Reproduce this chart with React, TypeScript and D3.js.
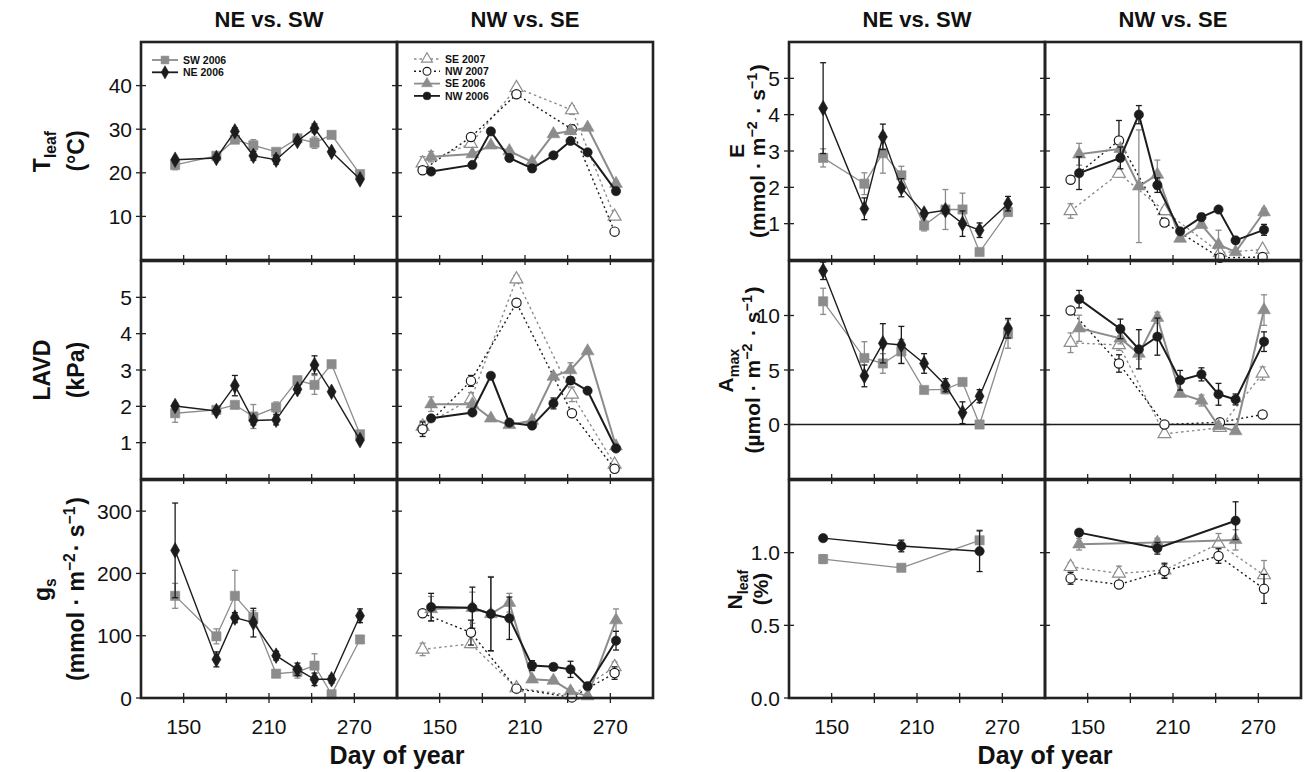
import React from "react";
import * as d3 from "d3";

// sampling dates (day of year)
const days2006 = [144, 173, 186, 199, 215, 230, 242, 254, 274];
const days2007 = [138, 172, 204, 243, 273];
const daysN2006 = [144, 199, 254];
const daysN2007 = [138, 172, 204, 242, 274];

// leaf temperature (°C)
const tSW06 = [21.8, 23.9, 27.6, 26.3, 24.8, 27.9, 26.9, 28.7, 19.7];
const tSW06e = [1.1, 0.4, 0.5, 1.3, 0.5, 0.5, 1.3, 0.4, 0.5];
const tNE06 = [23.0, 23.4, 29.5, 23.9, 23.0, 27.3, 30.2, 24.8, 18.5];
const tNE06e = [0.5, 0.4, 0.8, 1.0, 1.0, 0.5, 1.0, 0.4, 0.4];
const tSE07 = [22.2, 26.7, 39.5, 34.4, 10.0];
const tSE07e = [1.5, 0.5, 0.5, 1.0, 0.5];
const tNW07 = [20.6, 28.2, 38.0, 30.0, 6.5];
const tNW07e = [0.5, 0.5, 0.5, 1.0, 0.4];
const tSE06 = [23.7, 24.3, 26.3, 25.0, 22.5, 28.9, 29.6, 30.4, 17.5];
const tSE06e = [1.2, 0.4, 0.4, 0.4, 0.4, 0.4, 0.5, 0.4, 0.6];
const tNW06 = [20.3, 21.8, 29.5, 23.4, 21.0, 24.0, 27.3, 24.7, 15.8];
const tNW06e = [0.4, 0.4, 0.4, 0.4, 0.8, 0.4, 0.4, 0.4, 0.6];

// leaf-to-air vapour deficit (kPa)
const vSW06 = [1.81, 1.9, 2.04, 1.72, 1.97, 2.72, 2.59, 3.16, 1.23];
const vSW06e = [0.25, 0.05, 0.05, 0.33, 0.15, 0.05, 0.26, 0.05, 0.05];
const vNE06 = [2.01, 1.87, 2.57, 1.61, 1.63, 2.47, 3.14, 2.4, 1.07];
const vNE06e = [0.08, 0.06, 0.28, 0.12, 0.14, 0.1, 0.25, 0.05, 0.05];
const vSE07 = [1.45, 2.2, 5.5, 2.33, 0.4];
const vSE07e = [0.15, 0.18, 0.1, 0.2, 0.05];
const vNW07 = [1.37, 2.7, 4.85, 1.81, 0.28];
const vNW07e = [0.2, 0.15, 0.1, 0.05, 0.05];
const vSE06 = [2.06, 2.06, 1.67, 1.49, 1.61, 2.82, 3.0, 3.52, 0.9];
const vSE06e = [0.2, 0.05, 0.05, 0.05, 0.05, 0.05, 0.2, 0.05, 0.05];
const vNW06 = [1.67, 1.83, 2.84, 1.55, 1.47, 2.08, 2.71, 2.43, 0.84];
const vNW06e = [0.08, 0.05, 0.08, 0.05, 0.08, 0.15, 0.1, 0.05, 0.05];

// stomatal conductance (mmol m-2 s-1)
const gSW06 = [164, 99, 164, 130, 39, 42, 52, 6, 94];
const gSW06e = [20, 12, 41, 10, 4, 10, 19, 4, 5];
const gNE06 = [237, 62, 129, 121, 68, 46, 30, 30, 132];
const gNE06e = [76, 12, 8, 23, 7, 10, 10, 6, 11];
const gSE07 = [78, 87, 16, 4, 50];
const gSE07e = [10, 6, 4, 2, 8];
const gNW07 = [136, 105, 15, 1, 40];
const gNW07e = [5, 20, 4, 2, 10];
const gSE06 = [143, 145, 135, 153, 30, 28, 11, 3, 125];
const gSE06e = [20, 25, 60, 15, 4, 4, 4, 3, 18];
const gNW06 = [146, 145, 135, 128, 52, 50, 46, 19, 92];
const gNW06e = [22, 33, 59, 34, 8, 5, 13, 4, 15];

// transpiration (mmol m-2 s-1)
const eSW06 = [2.81, 2.1, 2.94, 2.33, 0.95, 1.39, 1.39, 0.22, 1.32];
const eSW06e = [0.25, 0.3, 0.55, 0.25, 0.15, 0.55, 0.45, 0.05, 0.1];
const eNE06 = [4.18, 1.41, 3.39, 1.99, 1.28, 1.37, 1.0, 0.82, 1.55];
const eNE06e = [1.25, 0.3, 0.35, 0.25, 0.08, 0.1, 0.35, 0.2, 0.2];
const eSE07 = [1.35, 2.38, 1.35, 0.2, 0.29];
const eSE07e = [0.2, 0.1, 0.1, 0.05, 0.05];
const eNW07 = [2.21, 3.29, 1.03, 0.06, 0.08];
const eNW07e = [0.1, 0.55, 0.1, 0.03, 0.03];
const eSE06 = [2.91, 3.06, 2.03, 2.35, 0.59, 0.97, 0.42, 0.22, 1.32];
const eSE06e = [0.3, 0.05, 1.55, 0.4, 0.05, 0.05, 0.4, 0.05, 0.1];
const eNW06 = [2.39, 2.81, 4.0, 2.06, 0.79, 1.18, 1.39, 0.54, 0.83];
const eNW06e = [0.45, 0.3, 0.25, 0.2, 0.05, 0.1, 0.05, 0.05, 0.15];

// maximum assimilation (µmol m-2 s-1)
const aSW06 = [11.3, 6.1, 5.6, 6.7, 3.17, 3.23, 3.9, 0.0, 8.3];
const aSW06e = [1.2, 1.5, 0.9, 1.1, 0.1, 0.4, 0.3, 0.1, 1.3];
const aNE06 = [14.1, 4.46, 7.45, 7.3, 5.6, 3.6, 1.08, 2.6, 8.83];
const aNE06e = [0.8, 1.0, 1.8, 1.7, 0.9, 0.6, 1.0, 0.6, 0.9];
const aSE07 = [7.5, 7.3, -0.86, -0.3, 4.68];
const aSE07e = [0.9, 0.5, 0.2, 0.2, 0.6];
const aNW07 = [10.46, 5.6, 0.0, 0.2, 0.92];
const aNW07e = [0.2, 0.8, 0.2, 0.1, 0.1];
const aSE06 = [8.83, 7.9, 6.5, 9.8, 2.83, 2.2, -0.15, -0.6, 10.5];
const aSE06e = [1.2, 0.5, 0.5, 0.5, 0.2, 0.5, 0.2, 0.2, 1.4];
const aNW06 = [11.5, 8.77, 6.9, 8.06, 4.06, 4.6, 2.77, 2.3, 7.6];
const aNW06e = [0.8, 0.9, 1.8, 1.7, 0.9, 0.6, 1.0, 0.5, 0.9];

// leaf nitrogen (%)
const nSW06 = [0.956, 0.896, 1.085];
const nSW06e = [0.03, 0.01, 0.07];
const nNE06 = [1.1, 1.046, 1.01];
const nNE06e = [0.02, 0.04, 0.14];
const nSE07 = [0.903, 0.857, 0.88, 1.062, 0.846];
const nSE07e = [0.03, 0.05, 0.05, 0.07, 0.1];
const nNW07 = [0.823, 0.781, 0.873, 0.977, 0.751];
const nNW07e = [0.04, 0.02, 0.05, 0.05, 0.1];
const nSE06 = [1.058, 1.07, 1.088];
const nSE06e = [0.04, 0.03, 0.07];
const nNW06 = [1.138, 1.03, 1.22];
const nNW06e = [0.02, 0.04, 0.13];

const xTicks = [150, 180, 210, 240, 270];
const xTickLabels = ["150", "", "210", "", "270"];

const FONT = "'Liberation Sans', Arial, Helvetica, sans-serif";
const GREY = "#8c8c8c";
const BLACK = "#1c1c1c";
const FRAME = "#222";

const PW = 256;
const PH = 218;
const groupX = [141, 789];
const rowY = [42, 261, 480];

type Style = { color: string; shape: string; open: boolean; dash: string | null; width: number; label: string };

const ST: Record<string, Style> = {
  SW06: { color: GREY, shape: "square", open: false, dash: null, width: 1.3, label: "SW 2006" },
  NE06: { color: BLACK, shape: "diamond", open: false, dash: null, width: 1.4, label: "NE 2006" },
  NE06c: { color: BLACK, shape: "circle", open: false, dash: null, width: 1.4, label: "NE 2006" },
  SE07: { color: GREY, shape: "triangle", open: true, dash: "2.5,3", width: 1.4, label: "SE 2007" },
  NW07: { color: BLACK, shape: "circle", open: true, dash: "2,3", width: 1.4, label: "NW 2007" },
  SE06: { color: GREY, shape: "triangle", open: false, dash: null, width: 2, label: "SE 2006" },
  NW06: { color: BLACK, shape: "circle", open: false, dash: null, width: 2, label: "NW 2006" },
};

const SYM: Record<string, [d3.SymbolType, number]> = {
  square: [d3.symbolSquare, 85],
  diamond: [d3.symbolDiamond, 70],
  circle: [d3.symbolCircle, 68],
  triangle: [d3.symbolTriangle, 72],
};

type Series = { style: Style; days: number[]; vals: number[]; errs: number[] };
const mk = (style: Style, days: number[], vals: number[], errs: number[]): Series => ({ style, days, vals, errs });

const marker = (shape: string) => d3.symbol().type(SYM[shape][0]).size(SYM[shape][1])() as string;

function Marker({ s, cx, cy }: { s: Style; cx: number; cy: number }) {
  return (
    <path
      d={marker(s.shape)}
      transform={`translate(${cx},${cy})`}
      fill={s.open ? "#fff" : s.color}
      stroke={s.color}
      strokeWidth={s.open ? 1.2 : 0.6}
    />
  );
}

type PanelProps = {
  x0: number;
  y0: number;
  yDomain: [number, number];
  yTicks: number[];
  yLabels: string[] | null;
  series: Series[];
  xLabels: boolean;
  zeroLine?: boolean;
  legend?: { x: number; y: number; items: Style[] };
};

function Panel({ x0, y0, yDomain, yTicks, yLabels, series, xLabels, zeroLine, legend }: PanelProps) {
  const x = d3.scaleLinear().domain([120, 300]).range([x0, x0 + PW]);
  const y = d3.scaleLinear().domain(yDomain).range([y0 + PH, y0]);
  const line = d3
    .line<[number, number]>()
    .x((d) => x(d[0]))
    .y((d) => y(d[1]));
  return (
    <g>
      {zeroLine && <line x1={x0} x2={x0 + PW} y1={y(0)} y2={y(0)} stroke={BLACK} strokeWidth={1.3} />}
      {series.map((s, i) => (
        <g key={i}>
          <path
            d={line(s.days.map((d, j) => [d, s.vals[j]] as [number, number])) as string}
            fill="none"
            stroke={s.style.color}
            strokeWidth={s.style.width}
            strokeDasharray={s.style.dash ?? undefined}
          />
          {s.days.map((d, j) => {
            const cx = x(d);
            const top = y(s.vals[j] + s.errs[j]);
            const bot = y(s.vals[j] - s.errs[j]);
            return (
              <g key={j} stroke={s.style.color} strokeWidth={1.3}>
                <line x1={cx} x2={cx} y1={top} y2={bot} />
                <line x1={cx - 3} x2={cx + 3} y1={top} y2={top} />
                <line x1={cx - 3} x2={cx + 3} y1={bot} y2={bot} />
              </g>
            );
          })}
          {s.days.map((d, j) => (
            <Marker key={"m" + j} s={s.style} cx={x(d)} cy={y(s.vals[j])} />
          ))}
        </g>
      ))}
      {/* frame */}
      <rect x={x0} y={y0} width={PW} height={PH} fill="none" stroke={FRAME} strokeWidth={2.6} />
      {xTicks.map((t) => (
        <line key={t} x1={x(t)} x2={x(t)} y1={y0 + PH - 5} y2={y0 + PH + 5} stroke={FRAME} strokeWidth={1.3} />
      ))}
      {yTicks.map((t) => (
        <line key={t} x1={x0 - 5} x2={x0 + 5} y1={y(t)} y2={y(t)} stroke={FRAME} strokeWidth={1.3} />
      ))}
      {yLabels &&
        yTicks.map((t, i) => (
          <text key={t} x={x0 - 9} y={y(t)} dy="0.36em" textAnchor="end" fontSize={21} fontFamily={FONT} fill="#111">
            {yLabels[i]}
          </text>
        ))}
      {xLabels &&
        xTicks.map((t, i) => (
          <text key={t} x={x(t)} y={y0 + PH + 36} textAnchor="middle" fontSize={21} fontFamily={FONT} fill="#111">
            {xTickLabels[i]}
          </text>
        ))}
      {legend &&
        legend.items.map((s, i) => {
          const ly = legend.y + i * 12.3;
          return (
            <g key={i}>
              <line
                x1={legend.x}
                x2={legend.x + 26}
                y1={ly}
                y2={ly}
                stroke={s.color}
                strokeWidth={s.dash ? 1.4 : 1.8}
                strokeDasharray={s.dash ?? undefined}
              />
              <g transform={`translate(${legend.x + 13},${ly}) scale(0.85)`}>
                <path d={marker(s.shape)} fill={s.open ? "#fff" : s.color} stroke={s.color} strokeWidth={s.open ? 1.3 : 0.6} />
              </g>
              <text x={legend.x + 31} y={ly} dy="0.35em" fontSize={10.5} fontWeight="bold" fontFamily={FONT} fill="#111">
                {s.label}
              </text>
            </g>
          );
        })}
    </g>
  );
}

type Part = string | { sub: string } | { sup: string };

function LabelLine({ parts, size }: { parts: Part[]; size: number }) {
  return (
    <>
      {parts.map((p, i) => {
        if (typeof p === "string") return <tspan key={i}>{p}</tspan>;
        if ("sub" in p)
          return (
            <tspan key={i} fontSize={size * 0.68} dy={size * 0.28}>
              {p.sub}
              <tspan dy={-size * 0.28}>{"\u200a"}</tspan>
            </tspan>
          );
        return (
          <React.Fragment key={i}>
            <tspan fontSize={size * 0.68} dy={-size * 0.38}>
              {p.sup}
            </tspan>
            <tspan dy={size * 0.38}>{"\u200a"}</tspan>
          </React.Fragment>
        );
      })}
    </>
  );
}

function YTitle({ x1, x2, cy, l1, l2, size = 23 }: { x1: number; x2: number; cy: number; l1: Part[]; l2: Part[]; size?: number }) {
  return (
    <g fontFamily={FONT} fontWeight="bold" fontSize={size} fill="#111" textAnchor="middle">
      <text transform={`translate(${x1},${cy}) rotate(-90)`}>
        <LabelLine parts={l1} size={size} />
      </text>
      <text transform={`translate(${x2},${cy}) rotate(-90)`}>
        <LabelLine parts={l2} size={size} />
      </text>
    </g>
  );
}

const rowsLeft = [
  {
    dom: [0, 50] as [number, number],
    ticks: [10, 20, 30, 40],
    labels: ["10", "20", "30", "40"],
    a: [mk(ST.SW06, days2006, tSW06, tSW06e), mk(ST.NE06, days2006, tNE06, tNE06e)],
    b: [
      mk(ST.SE07, days2007, tSE07, tSE07e),
      mk(ST.NW07, days2007, tNW07, tNW07e),
      mk(ST.SE06, days2006, tSE06, tSE06e),
      mk(ST.NW06, days2006, tNW06, tNW06e),
    ],
  },
  {
    dom: [0, 6] as [number, number],
    ticks: [1, 2, 3, 4, 5],
    labels: ["1", "2", "3", "4", "5"],
    a: [mk(ST.SW06, days2006, vSW06, vSW06e), mk(ST.NE06, days2006, vNE06, vNE06e)],
    b: [
      mk(ST.SE07, days2007, vSE07, vSE07e),
      mk(ST.NW07, days2007, vNW07, vNW07e),
      mk(ST.SE06, days2006, vSE06, vSE06e),
      mk(ST.NW06, days2006, vNW06, vNW06e),
    ],
  },
  {
    dom: [0, 350] as [number, number],
    ticks: [0, 100, 200, 300],
    labels: ["0", "100", "200", "300"],
    a: [mk(ST.SW06, days2006, gSW06, gSW06e), mk(ST.NE06, days2006, gNE06, gNE06e)],
    b: [
      mk(ST.SE07, days2007, gSE07, gSE07e),
      mk(ST.NW07, days2007, gNW07, gNW07e),
      mk(ST.SE06, days2006, gSE06, gSE06e),
      mk(ST.NW06, days2006, gNW06, gNW06e),
    ],
  },
];

const rowsRight = [
  {
    dom: [0, 6] as [number, number],
    ticks: [1, 2, 3, 4, 5],
    labels: ["1", "2", "3", "4", "5"],
    zero: false,
    a: [mk(ST.SW06, days2006, eSW06, eSW06e), mk(ST.NE06, days2006, eNE06, eNE06e)],
    b: [
      mk(ST.SE07, days2007, eSE07, eSE07e),
      mk(ST.NW07, days2007, eNW07, eNW07e),
      mk(ST.SE06, days2006, eSE06, eSE06e),
      mk(ST.NW06, days2006, eNW06, eNW06e),
    ],
  },
  {
    dom: [-5, 15] as [number, number],
    ticks: [0, 5, 10],
    labels: ["0", "5", "10"],
    zero: true,
    a: [mk(ST.SW06, days2006, aSW06, aSW06e), mk(ST.NE06, days2006, aNE06, aNE06e)],
    b: [
      mk(ST.SE07, days2007, aSE07, aSE07e),
      mk(ST.NW07, days2007, aNW07, aNW07e),
      mk(ST.SE06, days2006, aSE06, aSE06e),
      mk(ST.NW06, days2006, aNW06, aNW06e),
    ],
  },
  {
    dom: [0, 1.5] as [number, number],
    ticks: [0, 0.5, 1.0],
    labels: ["0.0", "0.5", "1.0"],
    zero: false,
    a: [mk(ST.SW06, daysN2006, nSW06, nSW06e), mk(ST.NE06c, daysN2006, nNE06, nNE06e)],
    b: [
      mk(ST.SE07, daysN2007, nSE07, nSE07e),
      mk(ST.NW07, daysN2007, nNW07, nNW07e),
      mk(ST.SE06, daysN2006, nSE06, nSE06e),
      mk(ST.NW06, daysN2006, nNW06, nNW06e),
    ],
  },
];

const mmolUnit: Part[] = ["(mmol · m", { sup: "−2" }, "· s", { sup: "−1" }, ")"];
const mmolUnitR: Part[] = ["(mmol · m", { sup: "−2" }, " · s", { sup: "−1" }, ")"];
const umolUnit: Part[] = ["(µmol · m", { sup: "−2" }, " · s", { sup: "−1" }, ")"];

export default function App() {
  const titles = ["NE vs. SW", "NW vs. SE"];
  return (
    <svg width={1304} height={772} style={{ display: "block", position: "absolute", left: 0, top: 0, background: "#fff" }}>
      {groupX.map((gx, gi) =>
        titles.map((t, pi) => (
          <text
            key={`${gi}-${pi}`}
            x={gx + pi * PW + PW / 2}
            y={27}
            textAnchor="middle"
            fontSize={22}
            fontWeight="bold"
            fontFamily={FONT}
            fill="#111"
          >
            {t}
          </text>
        ))
      )}
      {rowsLeft.map((r, ri) => (
        <g key={"L" + ri}>
          <Panel
            x0={groupX[0]}
            y0={rowY[ri]}
            yDomain={r.dom}
            yTicks={r.ticks}
            yLabels={r.labels}
            series={r.a}
            xLabels={ri === 2}
            legend={ri === 0 ? { x: 152, y: 60, items: [ST.SW06, ST.NE06] } : undefined}
          />
          <Panel
            x0={groupX[0] + PW}
            y0={rowY[ri]}
            yDomain={r.dom}
            yTicks={r.ticks}
            yLabels={null}
            series={r.b}
            xLabels={ri === 2}
            legend={ri === 0 ? { x: 414, y: 59, items: [ST.SE07, ST.NW07, ST.SE06, ST.NW06] } : undefined}
          />
        </g>
      ))}
      {rowsRight.map((r, ri) => (
        <g key={"R" + ri}>
          <Panel
            x0={groupX[1]}
            y0={rowY[ri]}
            yDomain={r.dom}
            yTicks={r.ticks}
            yLabels={r.labels}
            series={r.a}
            xLabels={ri === 2}
            zeroLine={r.zero}
          />
          <Panel
            x0={groupX[1] + PW}
            y0={rowY[ri]}
            yDomain={r.dom}
            yTicks={r.ticks}
            yLabels={null}
            series={r.b}
            xLabels={ri === 2}
            zeroLine={r.zero}
          />
        </g>
      ))}
      {/* y-axis titles, left block */}
      <YTitle x1={50} x2={84} cy={rowY[0] + PH / 2} l1={["T", { sub: "leaf" }]} l2={["(°C)"]} />
      <YTitle x1={50} x2={84} cy={rowY[1] + PH / 2} l1={["LAVD"]} l2={["(kPa)"]} />
      <YTitle x1={50} x2={84} cy={rowY[2] + PH / 2} l1={["g", { sub: "s" }]} l2={mmolUnit} />
      {/* y-axis titles, right block */}
      <YTitle x1={744} x2={765} cy={rowY[0] + PH / 2} l1={["E"]} l2={mmolUnitR} size={21} />
      <YTitle x1={733} x2={760} cy={rowY[1] + PH / 2} l1={["A", { sub: "max" }]} l2={umolUnit} size={21} />
      <YTitle x1={742} x2={768} cy={rowY[2] + PH / 2} l1={["N", { sub: "leaf" }]} l2={["(%)"]} size={21} />
      {groupX.map((gx) => (
        <text key={gx} x={gx + PW} y={764} textAnchor="middle" fontSize={25} fontWeight="bold" fontFamily={FONT} fill="#111">
          Day of year
        </text>
      ))}
    </svg>
  );
}
